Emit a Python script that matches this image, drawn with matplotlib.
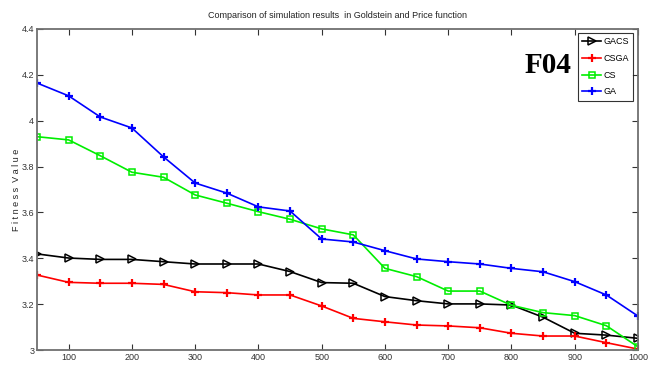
import matplotlib
matplotlib.use("Agg")
import matplotlib.pyplot as plt
from matplotlib import font_manager

x = [50, 100, 150, 200, 250, 300, 350, 400, 450, 500, 550, 600, 650, 700, 750, 800, 850, 900, 950, 1000]
gacs = [3.419, 3.401, 3.395, 3.395, 3.385, 3.375, 3.375, 3.375, 3.342, 3.294, 3.291, 3.233, 3.215, 3.201, 3.201, 3.196, 3.143, 3.073, 3.065, 3.051]
csga = [3.327, 3.295, 3.291, 3.291, 3.286, 3.254, 3.250, 3.240, 3.240, 3.192, 3.138, 3.123, 3.109, 3.105, 3.097, 3.073, 3.061, 3.061, 3.032, 3.004]
cs = [3.930, 3.916, 3.847, 3.775, 3.753, 3.676, 3.640, 3.603, 3.570, 3.528, 3.502, 3.356, 3.320, 3.257, 3.257, 3.195, 3.163, 3.150, 3.106, 3.014]
ga = [4.164, 4.108, 4.016, 3.968, 3.842, 3.728, 3.684, 3.624, 3.606, 3.484, 3.471, 3.433, 3.397, 3.385, 3.375, 3.356, 3.341, 3.298, 3.240, 3.148]

xticks = [100, 200, 300, 400, 500, 600, 700, 800, 900, 1000]
yticks = [3, 3.2, 3.4, 3.6, 3.8, 4, 4.2, 4.4]
yticklabels = ["3", "3.2", "3.4", "3.6", "3.8", "4", "4.2", "4.4"]

names = {f.name for f in font_manager.fontManager.ttflist}
narrow = "Liberation Sans Narrow" if "Liberation Sans Narrow" in names else "Liberation Sans"
plt.rcParams['font.family'] = [narrow, 'DejaVu Sans']

fig = plt.figure(figsize=(6.49, 3.70), dpi=100)
ax = fig.add_axes([0.057, 0.054, 0.926, 0.868])

lw = 1.2
ax.plot(x, gacs, color='k', lw=lw, marker='>', ms=5.5, mfc='none', mec='k', mew=1.1, label='GACS')
ax.plot(x, csga, color='#ff0000', lw=lw, marker='+', ms=5.5, mew=1.6, label='CSGA')
ax.plot(x, cs, color='#00ee00', lw=lw, marker='s', ms=4.5, mfc='none', mec='#00ee00', mew=1.1, label='CS')
ax.plot(x, ga, color='#0000ff', lw=lw, marker='+', ms=5.5, mew=1.6, label='GA')

ax.set_xlim(50, 1000)
ax.set_ylim(3, 4.4)
ax.set_xticks(xticks)
ax.set_xticklabels([str(v) for v in xticks])
ax.set_yticks(yticks)
ax.set_yticklabels(yticklabels)
ax.tick_params(direction='in', top=True, right=True, length=4, width=0.8,
               labelsize=6.5, colors='#333333', pad=2)
for s in ax.spines.values():
    s.set_color('#707070')
    s.set_linewidth(1.3)

ax.set_title("Comparison of simulation results  in Goldstein and Price function", fontsize=6.5, pad=8, color='#222222')
ax.set_ylabel("F i t n e s s  V a l u e", fontsize=6.5, color='#222222')
ax.yaxis.set_label_coords(-0.027, 0.5)

ax.text(0.89, 0.885, "F04", transform=ax.transAxes, ha='right', va='center',
        fontsize=21, fontweight='bold', family='Liberation Serif')

leg = ax.legend(loc='upper right', fontsize=6.5, frameon=True, fancybox=False,
                borderpad=0.45, labelspacing=0.85, handlelength=2.1, handletextpad=0.3,
                borderaxespad=0.5)
leg.get_frame().set_edgecolor('k')
leg.get_frame().set_linewidth(0.8)

fig.savefig("out.png", dpi=100)
